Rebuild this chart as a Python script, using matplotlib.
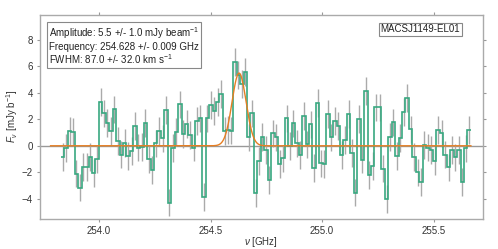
import numpy as np
import matplotlib
matplotlib.use("Agg")
import matplotlib.pyplot as plt

plt.rcParams['font.family'] = ['Liberation Sans', 'DejaVu Sans']
plt.rcParams['mathtext.fontset'] = 'custom'
plt.rcParams['mathtext.rm'] = 'Liberation Sans'
plt.rcParams['mathtext.it'] = 'Liberation Sans:italic'

# ---- data ----
FREQ_START = 253.8297      # GHz, left edge of first channel
CHAN_WIDTH = 0.01544       # GHz
flux = [
    -0.83, -0.15, 1.14, 1.06, -2.1, -3.16, -1.6, -1.6, -0.83, -2.05,
    -1.03, 3.33, 2.45, 1.7, 1.1, 2.75, 0.35, -0.66, 0.2, -0.78,
    -0.4, 1.5, -0.13, -0.08, 1.74, -1.03, -1.84, 0.18, 1.1,
    0.56, 2.7, -4.3, -0.15, 1.05, 3.13, 0.88, 1.64, 0.8, -0.13,
    1.87, 2.07, -3.86, 2.07, 3.08, 2.65, 3.33, 3.9, 1.1, 1.2,
    1.15, 6.36, 5.35, 4.65, 5.6, 0.63, 2.45, -3.56, -1.15, 0.65,
    -0.33, -2.6, 0.93, 0.63, -1.39, -0.96, 2.07, 0.0, 1.69, 0.18,
    -0.7, 2.27, 0.1, 1.62, -1.67, 3.26, -1.34, -1.39, 2.4, 0.63,
    1.89, 1.49, -0.7, 0.43, 2.4, -0.53, -3.54, 2.02, -1.04, 4.14,
    -2.2, -1.54, 2.9, 2.9, -1.72, -4.04, 0.68, 1.77, -0.78, 0.6,
    2.58, 3.64, 1.24, -0.83, -2.02, -2.73, 0.05, -0.13, -0.33, -1.14,
    1.19, 0.93, -0.66, -1.64, -0.33, -0.88, -0.33, -2.73, -0.2, 1.19,
]
ERR = 1.05                 # mJy/beam per channel

# fit parameters (from the annotation)
AMP = 5.5
CENTER = 254.628
FWHM_KMS = 87.0
MODEL_RANGE = (253.783, 255.667)

fit_text = ("Amplitude: 5.5 +/- 1.0 mJy beam$^{-1}$\n"
            "Frequency: 254.628 +/- 0.009 GHz\n"
            "FWHM: 87.0 +/- 32.0 km s$^{-1}$")
source_name = "MACSJ1149-EL01"
xticks = [254.0, 254.5, 255.0, 255.5]
yticks = [-4, -2, 0, 2, 4, 6, 8]

# ---- derived ----
flux = np.array(flux)
n = len(flux)
edges = FREQ_START + CHAN_WIDTH * np.arange(n + 1)
centers = 0.5 * (edges[:-1] + edges[1:])
fwhm_ghz = FWHM_KMS / 299792.458 * CENTER
sigma = fwhm_ghz / 2.3548
mx = np.linspace(MODEL_RANGE[0], MODEL_RANGE[1], 800)
my = AMP * np.exp(-0.5 * ((mx - CENTER) / sigma) ** 2)

fig = plt.figure(figsize=(4.98, 2.49), dpi=100)
ax = fig.add_axes([0.0803, 0.1205, 0.8889, 0.8205])

ax.axhline(0, color='#999999', lw=1.0, zorder=1)
ax.errorbar(centers, flux, yerr=ERR, fmt='none', ecolor='#aaaaaa',
            elinewidth=1.0, zorder=2)
ax.stairs(flux, edges, baseline=None, color='#38a880', lw=1.2, zorder=3)
ax.plot(mx, my, color='#e67e22', lw=1.0, zorder=4)

ax.set_xlim(253.7356, 255.7198)
ax.set_ylim(-5.54, 9.92)
ax.set_xticks(xticks)
ax.set_xticklabels([f"{t:.1f}" for t in xticks])
ax.set_yticks(yticks)

for sp in ax.spines.values():
    sp.set_color('#aaaaaa')
    sp.set_linewidth(1.0)
ax.tick_params(axis='both', which='major', direction='out', length=2.2,
               width=0.8, color='#999999', labelsize=7, labelcolor='#333333',
               top=True, right=True, pad=3.0)

ax.set_xlabel(r"$\nu$ [GHz]", fontsize=7, color='#333333', labelpad=-1)
ax.set_ylabel(r"$F_\nu$ [mJy b$^{-1}$]", fontsize=7, color='#333333', labelpad=1.5)

ax.text(0.020, 0.947, fit_text, transform=ax.transAxes, ha='left', va='top',
        fontsize=7, color='#222222', linespacing=1.05,
        bbox=dict(boxstyle='square,pad=0.15', fc='white', ec='#888888', lw=0.8),
        zorder=6)
ax.text(0.949, 0.929, source_name, transform=ax.transAxes, ha='right', va='center',
        fontsize=7, color='#222222',
        bbox=dict(boxstyle='square,pad=0.15', fc='white', ec='#888888', lw=0.8),
        zorder=6)

fig.savefig("out.png", dpi=100)
